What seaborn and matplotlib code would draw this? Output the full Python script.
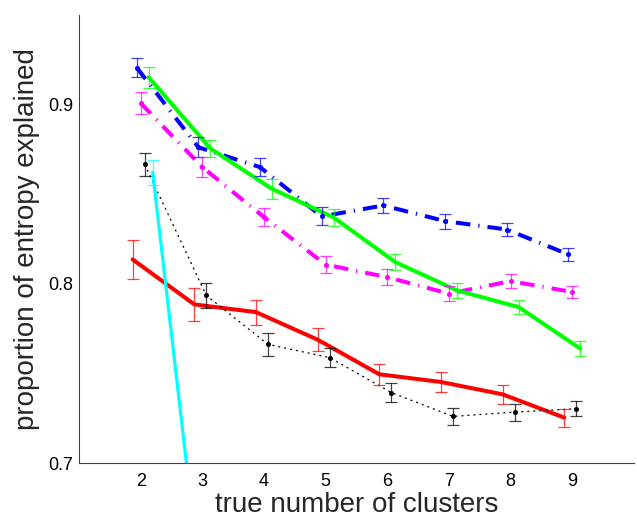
import numpy as np
import pandas as pd
import matplotlib
matplotlib.use("Agg")
import matplotlib.pyplot as plt
import seaborn as sns

clusters = [2, 3, 4, 5, 6, 7, 8, 9]

blue_mean = [0.9207, 0.8762, 0.8651, 0.8376, 0.8437, 0.8350, 0.8303, 0.8164]
blue_err = [0.0054, 0.0056, 0.0050, 0.0050, 0.0041, 0.0042, 0.0037, 0.0035]

green_mean = [0.9153, 0.8755, 0.8530, 0.8370, 0.8121, 0.7963, 0.7870, 0.7638]
green_err = [0.0059, 0.0050, 0.0056, 0.0050, 0.0045, 0.0043, 0.0040, 0.0041]

magenta_mean = [0.9008, 0.8651, 0.8372, 0.8107, 0.8037, 0.7945, 0.8015, 0.7954]
magenta_err = [0.0061, 0.0054, 0.0052, 0.0048, 0.0046, 0.0041, 0.0039, 0.0036]

black_mean = [0.8666, 0.7935, 0.7662, 0.7588, 0.7393, 0.7260, 0.7284, 0.7303]
black_err = [0.0065, 0.0070, 0.0065, 0.0054, 0.0051, 0.0049, 0.0048, 0.0043]

red_mean = [0.8136, 0.7885, 0.7842, 0.7688, 0.7495, 0.7452, 0.7383, 0.7253]
red_err = [0.0109, 0.0090, 0.0070, 0.0064, 0.0060, 0.0054, 0.0053, 0.0051]

cyan_mean = [0.8621, 0.5660, 0.5200, 0.4900, 0.4700, 0.4550, 0.4450, 0.4350]
cyan_err = [0.0070, 0.0070, 0.0070, 0.0070, 0.0070, 0.0070, 0.0070, 0.0070]

x_ticks = [2, 3, 4, 5, 6, 7, 8, 9]
y_ticks = [0.7, 0.8, 0.9]
y_ticklabels = ["0.7", "0.8", "0.9"]

sns.set_style("white")
plt.rcParams["font.family"] = ["Liberation Sans", "DejaVu Sans"]

fig = plt.figure(figsize=(6.37, 5.23), dpi=100)
ax = fig.add_axes([79 / 637, 60 / 523, 555 / 637, 448 / 523])

series = [
    # name, mean, err, color, offset, lw, linestyle, marker
    ("red", red_mean, red_err, (1, 0, 0), -0.13, 2.9, "-", False),
    ("blue", blue_mean, blue_err, (0, 0, 1), -0.065, 2.9, (0, (3.6, 2.0, 0.3, 2.0)), True),
    ("magenta", magenta_mean, magenta_err, (1, 0, 1), 0.0, 2.9, (0, (3.6, 2.0, 0.3, 2.0)), True),
    ("black", black_mean, black_err, (0, 0, 0), 0.065, 0.9, (0, (1.6, 3.2)), True),
    ("green", green_mean, green_err, (0, 1, 0), 0.13, 2.9, "-", False),
    ("cyan", cyan_mean, cyan_err, (0, 1, 1), 0.195, 2.3, "-", False),
]

for name, mean, err, color, off, lw, ls, dot in series:
    xs = np.array(clusters, dtype=float) + off
    df = pd.DataFrame({"x": xs, "y": mean})
    sns.lineplot(data=df, x="x", y="y", ax=ax, color=color, lw=lw,
                 linestyle=ls, sort=False, estimator=None, zorder=2)
    ax.errorbar(xs, mean, yerr=err, fmt="none", ecolor=color, elinewidth=0.9,
                capsize=4, capthick=0.9, alpha=0.75, zorder=3)
    if dot:
        ax.plot(xs, mean, linestyle="none", marker="o", ms=2.6, color=color,
                zorder=4)

ax.set_xlim(1, 10)
ax.set_ylim(0.7, 0.95)
ax.set_xticks(x_ticks)
ax.set_xticklabels([str(t) for t in x_ticks])
ax.set_yticks(y_ticks)
ax.set_yticklabels(y_ticklabels)

ax.tick_params(axis="both", direction="in", length=3.6, width=0.75,
               colors="#404040", labelcolor="black", labelsize=13)
ax.tick_params(axis="x", pad=7)
ax.tick_params(axis="y", pad=4)

for side in ["top", "right"]:
    ax.spines[side].set_visible(False)
for side in ["left", "bottom"]:
    ax.spines[side].set_color("#404040")
    ax.spines[side].set_linewidth(0.8)

ax.set_xlabel("true number of clusters", fontsize=20, labelpad=2)
ax.set_ylabel("proportion of entropy explained", fontsize=20, labelpad=6)

fig.savefig("out.png", dpi=100)
